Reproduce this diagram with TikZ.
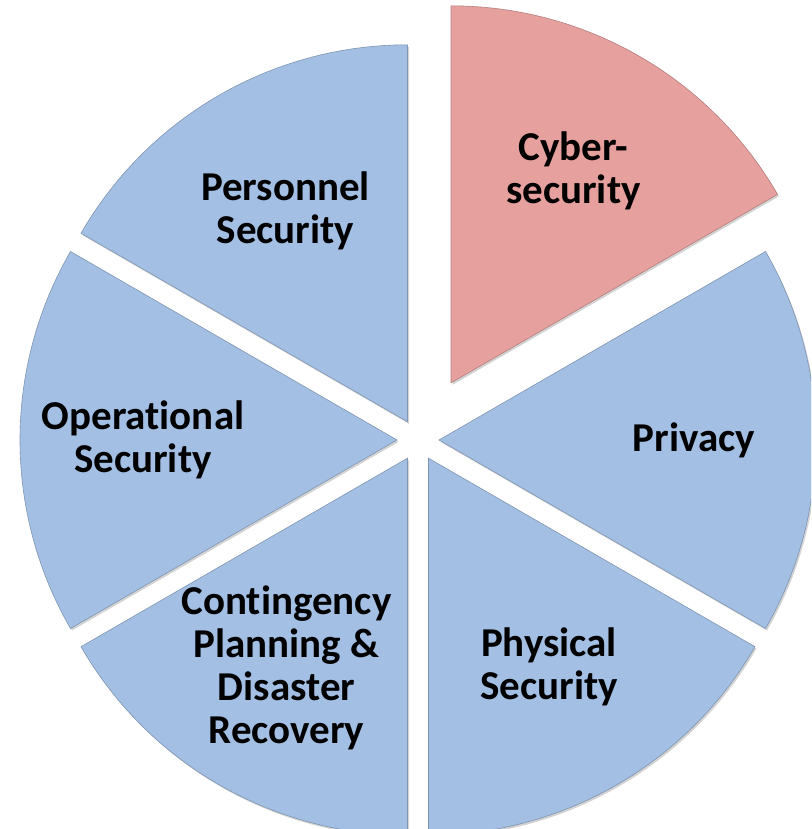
\documentclass[tikz,border=0pt]{standalone}
\usepackage{fontspec}
\setmainfont[Ligatures=CommonOff]{Carlito}
\usetikzlibrary{shadows}
\definecolor{sliceblue}{HTML}{A3BFE3}
\definecolor{slicered}{HTML}{E6A19F}
\tikzset{%
slice/.style={fill=sliceblue,draw=sliceblue!78!black,line width=0.6pt,drop shadow={shadow xshift=1.5pt,shadow yshift=-2pt,opacity=0.35}},
hotslice/.style={slice,fill=slicered,draw=slicered!78!black},
sectorlabel/.style={font=\fontsize{41}{43}\selectfont\bfseries,align=center,inner sep=0pt}
}

\begin{document}
\begin{tikzpicture}[x=1pt,y=1pt]

    \clip (-418,-389) rectangle (393,440);


    \draw[hotslice] (60:66) -- ++(30:377) arc[start angle=30,end angle=90,radius=377] -- cycle;
    \draw[slice] (0:21) -- ++(-30:377) arc[start angle=-30,end angle=30,radius=377] -- cycle;
    \draw[slice] (-60:21) -- ++(-90:377) arc[start angle=-90,end angle=-30,radius=377] -- cycle;
    \draw[slice] (240:21) -- ++(210:377) arc[start angle=210,end angle=270,radius=377] -- cycle;
    \draw[slice] (180:21) -- ++(150:377) arc[start angle=150,end angle=210,radius=377] -- cycle;
    \draw[slice] (120:21) -- ++(90:377) arc[start angle=90,end angle=150,radius=377] -- cycle;


    \node[sectorlabel] (cyber) at (60:311) {Cyber-\\security};
    \node[sectorlabel] (privacy) at (0:276) {Privacy};
    \node[sectorlabel] (physical) at (-60:262) {Physical\\Security};
    \node[sectorlabel] (contingency) at (240:263) {Contingency\\Planning \&\\Disaster\\Recovery};
    \node[sectorlabel] (operational) at (180:275) {Operational\\Security};
    \node[sectorlabel] (personnel) at (120:265) {Personnel\\Security};

  \end{tikzpicture}
\end{document}
